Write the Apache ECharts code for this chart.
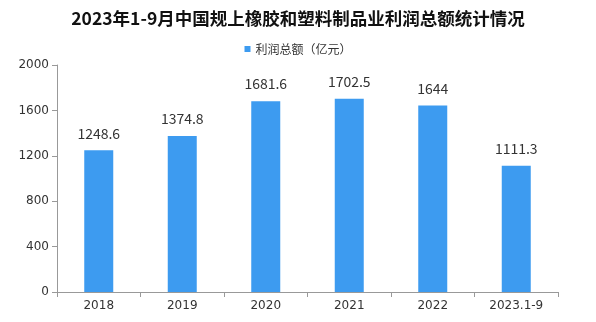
<!DOCTYPE html>
<html><head><meta charset="utf-8">
<script src="https://cdn.jsdelivr.net/npm/echarts@6/dist/echarts.min.js"></script>
<style>html,body{margin:0;padding:0;background:#fff}#c{width:596px;height:322px}</style>
</head><body><div id="c"></div>
<script>
const categories = ['2018','2019','2020','2021','2022','2023.1-9'];
const profit = [1248.6, 1374.8, 1681.6, 1702.5, 1644, 1111.3];
const yTicks = {min: 0, max: 2000, interval: 400};
const chart = echarts.init(document.getElementById('c'));
chart.setOption({
  animation: false,
  title: {text: '2023年1-9月中国规上橡胶和塑料制品业利润总额统计情况', left: 'center', top: 5,
    textStyle: {fontFamily: 'Noto Sans CJK SC', fontSize: 17.5, fontWeight: 'bold', color: '#111'}},
  legend: {top: 38, left: 'center', itemWidth: 6, itemHeight: 6, icon: 'rect', itemGap: 4,
    textStyle: {fontFamily: 'Noto Sans CJK SC', fontSize: 12, color: '#333'}},
  grid: {left: 57, right: 38, top: 65, bottom: 30},
  xAxis: {type: 'category', data: categories,
    axisLine: {lineStyle: {color: '#999'}},
    axisTick: {show: true, alignWithLabel: false, length: 5, lineStyle: {color: '#999'}},
    axisLabel: {fontFamily: 'DejaVu Sans', fontSize: 12, color: '#333', margin: 8}},
  yAxis: {type: 'value', min: yTicks.min, max: yTicks.max, interval: yTicks.interval,
    axisLine: {show: true, lineStyle: {color: '#999'}},
    axisTick: {show: true, length: 5, lineStyle: {color: '#999'}},
    splitLine: {show: false},
    axisLabel: {fontFamily: 'DejaVu Sans', fontSize: 12, color: '#333', margin: 8, formatter: v => String(v)}},
  series: [{name: '利润总额（亿元）', type: 'bar', data: profit, barWidth: 29,
    itemStyle: {color: '#3d9bf0'},
    label: {show: true, position: 'top', distance: 10, fontFamily: 'Noto Sans CJK SC', fontSize: 14, color: '#333'}}]
});
</script></body></html>
